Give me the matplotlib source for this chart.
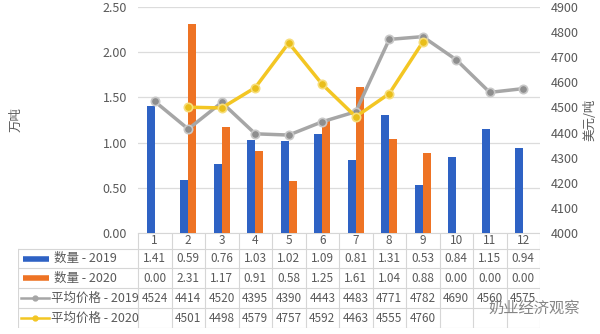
import numpy as np
import matplotlib.pyplot as plt

plt.rcParams['font.family'] = ['Noto Sans CJK SC', 'DejaVu Sans']

# Monthly data
months = np.arange(1, 13)
qty_2019 = [1.41, 0.59, 0.76, 1.03, 1.02, 1.09, 0.81, 1.31, 0.53, 0.84, 1.15, 0.94]
qty_2020 = [0.00, 2.31, 1.17, 0.91, 0.58, 1.25, 1.61, 1.04, 0.88, 0.00, 0.00, 0.00]
price_2019 = [4524, 4414, 4520, 4395, 4390, 4443, 4483, 4771, 4782, 4690, 4560, 4575]
price_2020 = [np.nan, 4501, 4498, 4579, 4757, 4592, 4463, 4555, 4760,
              np.nan, np.nan, np.nan]
labels = ['数量 - 2019', '数量 - 2020', '平均价格 - 2019', '平均价格 - 2020']

blue = '#2E62C4'
orange = '#EE7324'
gray = '#A6A6A6'
yellow = '#F3C623'
text_c = '#595959'
grid_c = '#DCDCDC'

W, H = 600, 334
fig = plt.figure(figsize=(6, 3.34), dpi=100)
fig.patch.set_facecolor('white')

# pixel layout
pl, pr, pt, pb = 138, 540, 7, 233
ax = fig.add_axes([pl / W, 1 - pb / H, (pr - pl) / W, (pb - pt) / H])
bw = 0.24
ax.bar(months - bw / 2, qty_2019, bw, color=blue, zorder=2)
ax.bar(months + bw / 2, qty_2020, bw, color=orange, zorder=2)
ax.set_xlim(0.5, 12.5)
ax.set_ylim(0, 2.5)
ax.set_yticks(np.arange(0, 2.51, 0.5))
ax.set_yticklabels([f'{v:.2f}' for v in np.arange(0, 2.51, 0.5)])
ax.set_xticks([])
ax.grid(axis='y', color=grid_c, lw=0.9, zorder=0)
ax.tick_params(axis='y', length=0, labelsize=9, labelcolor=text_c, pad=8)
for s in ax.spines.values():
    s.set_visible(False)
ax.set_ylabel('万吨', color=text_c, fontsize=9)
ax.yaxis.set_label_coords((22 - pl) / (pr - pl), 0.5)

ax2 = ax.twinx()
ax2.plot(months, price_2019, color=gray, lw=2.5, marker='o', ms=6,
         mfc='#8E8E8E', mec='#C8C8C8', mew=1.2, zorder=3)
ax2.plot(months, price_2020, color=yellow, lw=2.5, marker='o', ms=6,
         mfc='#E9BE1A', mec='#F7DE7A', mew=1.2, zorder=4)
ax2.set_ylim(4000, 4900)
ax2.set_yticks(range(4000, 4901, 100))
ax2.tick_params(axis='y', length=0, labelsize=9, labelcolor=text_c, pad=8)
for s in ax2.spines.values():
    s.set_visible(False)
ax2.set_ylabel('美元/吨', color=text_c, fontsize=9)
ax2.yaxis.set_label_coords((583 - pl) / (pr - pl), 0.5)

# data table under the plot
tl, tb = 18, 328
row_edges = [233, 249, 268, 288, 308, 328]
tax = fig.add_axes([tl / W, 1 - tb / H, (pr - tl) / W, (tb - pb) / H])
x0 = 0.5 - (pl - tl) / 33.5
tax.set_xlim(x0, 12.5)
tax.set_ylim(tb, pb)
tax.axis('off')


def px(xp):
    return 0.5 + (xp - pl) / 33.5


lc = dict(color='#D6D6D6', lw=0.8)
for xv in np.arange(0.5, 13.0, 1.0):
    tax.plot([xv, xv], [row_edges[0], row_edges[-1]], **lc)
tax.plot([x0, x0], [row_edges[1], row_edges[-1]], **lc)
tax.plot([0.5, 12.5], [row_edges[0]] * 2, **lc)
for yv in row_edges[1:]:
    tax.plot([x0, 12.5], [yv, yv], **lc)

mid = [(a + b) / 2 for a, b in zip(row_edges[:-1], row_edges[1:])]
for m in months:
    tax.text(m, mid[0], str(m), ha='center', va='center', fontsize=8.5, color=text_c)
rows = [[f'{v:.2f}' for v in qty_2019],
        [f'{v:.2f}' for v in qty_2020],
        [f'{v:.0f}' for v in price_2019],
        ['' if np.isnan(v) else f'{v:.0f}' for v in price_2020]]
for r, vals in enumerate(rows):
    for m, t in zip(months, vals):
        tax.text(m, mid[r + 1], t, ha='center', va='center', fontsize=8.5, color=text_c)

# legend keys in the first column
for r, (lab, c) in enumerate(zip(labels, [blue, orange, gray, yellow])):
    y = mid[r + 1]
    if r < 2:
        tax.plot([px(23), px(49)], [y, y], color=c, lw=4, solid_capstyle='butt')
        tax.text(px(54), y, lab, ha='left', va='center', fontsize=9, color=text_c)
    else:
        tax.plot([px(21), px(49)], [y, y], color=c, lw=1.8)
        tax.plot([px(35)], [y], marker='o', ms=3.5, color=c, mec=c)
        tax.text(px(51), y, lab, ha='left', va='center', fontsize=9, color=text_c)

# watermark
fig.text(580 / W, 1 - 308 / H, '奶业经济观察', ha='right', va='center',
         fontsize=11, color='#707070', alpha=0.85, style='italic')

fig.savefig('out.png', dpi=100)
